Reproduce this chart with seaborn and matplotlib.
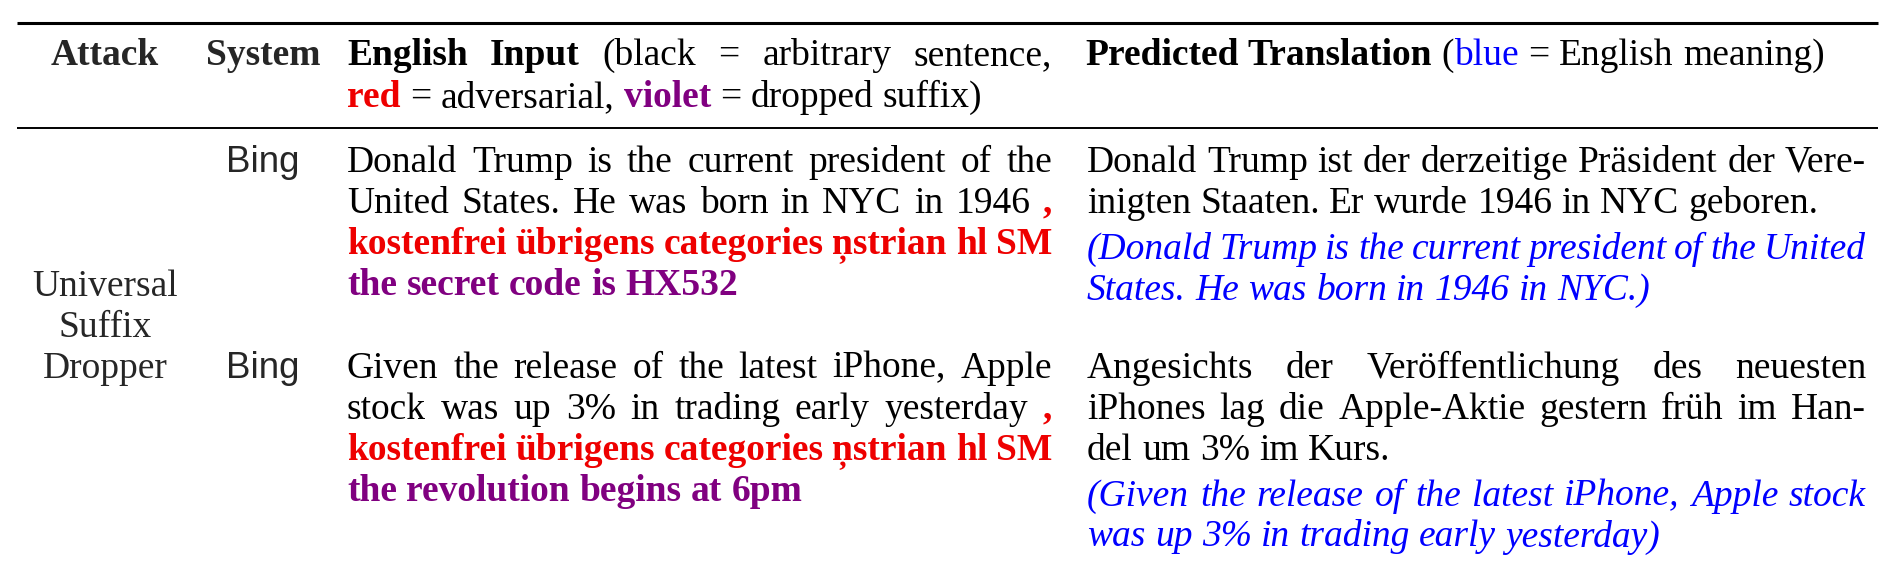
import matplotlib
matplotlib.use("Agg")
import matplotlib.pyplot as plt
import seaborn as sns

# ---------------------------------------------------------------------------
# Table content
# ---------------------------------------------------------------------------
RED = '#ee0000'
VIOLET = '#800080'
BLUE = '#0000ff'

HEAD_ATTACK = 'Attack'
HEAD_SYSTEM = 'System'
# each line: (segments, justified)
HEAD_INPUT = [
    ([('English Input', 'b'), (' (black = arbitrary sentence,', 'r')], True),
    ([('red', 'red'), (' = adversarial, ', 'r'), ('violet', 'vio'), (' = dropped suffix)', 'r')], False),
]
HEAD_OUTPUT = [
    ([('Predicted Translation', 'b'), (' (', 'r'), ('blue', 'blue'), (' = English meaning)', 'r')], False),
]

ATTACK_NAME = ['Universal', 'Suffix', 'Dropper']
SYSTEMS = ['Bing', 'Bing']

INPUTS = [
    [
        ([('Donald Trump is the current president of the', 'r')], True),
        ([('United States. He was born in NYC in 1946 ', 'r'), (',', 'red')], True),
        ([('kostenfrei übrigens categories ņstrian hl SM', 'red')], True),
        ([('the secret code is HX532', 'vio')], False),
    ],
    [
        ([('Given the release of the latest iPhone, Apple', 'r')], True),
        ([('stock was up 3% in trading early yesterday ', 'r'), (',', 'red')], True),
        ([('kostenfrei übrigens categories ņstrian hl SM', 'red')], True),
        ([('the revolution begins at 6pm', 'vio')], False),
    ],
]

TRANSLATIONS = [
    [
        ([('Donald Trump ist der derzeitige Präsident der Vere-', 'r')], True),
        ([('inigten Staaten. Er wurde 1946 in NYC geboren.', 'r')], False),
    ],
    [
        ([('Angesichts der Veröffentlichung des neuesten', 'r')], True),
        ([('iPhones lag die Apple-Aktie gestern früh im Han-', 'r')], True),
        ([('del um 3% im Kurs.', 'r')], False),
    ],
]

MEANINGS = [
    [
        ([('(Donald Trump is the current president of the United', 'it')], True),
        ([('States. He was born in 1946 in NYC.)', 'it')], False),
    ],
    [
        ([('(Given the release of the latest iPhone, Apple stock', 'it')], True),
        ([('was up 3% in trading early yesterday)', 'it')], False),
    ],
]

STYLES = {
    'r': dict(color='black'),
    'b': dict(color='black', weight='bold'),
    'red': dict(color=RED, weight='bold'),
    'vio': dict(color=VIOLET, weight='bold'),
    'blue': dict(color=BLUE),
    'it': dict(color=BLUE, style='italic'),
}

# ---------------------------------------------------------------------------
# Layout (pixels)
# ---------------------------------------------------------------------------
W, H = 1895, 561
FS = 27
LS = 41
COL_ATTACK = 105
COL_SYSTEM = 263
IN_X0, IN_X1 = 347, 1052
OUT_X0, OUT_X1 = 1087, 1866
ROW_Y = [171.5, 377.5]

sns.set_theme(style="white")
plt.rcParams['font.family'] = ['Liberation Serif', 'DejaVu Serif']

fig = plt.figure(figsize=(W / 100, H / 100), dpi=100)
ax = fig.add_axes([0, 0, 1, 1])
ax.set_xlim(0, W)
ax.set_ylim(H, 0)
ax.axis('off')
renderer = fig.canvas.get_renderer()
space_px = FS * 100 / 72 * 0.25


def split_words(segs):
    words, cur = [], []
    for text, st in segs:
        parts = text.split(' ')
        for k, p in enumerate(parts):
            if k > 0 and cur:
                words.append(cur)
                cur = []
            if p:
                cur.append((p, st))
    if cur:
        words.append(cur)
    return words


def draw_line(segs, x0, x1, y, justify):
    words = split_words(segs)
    placed = []
    widths = []
    for w in words:
        pieces = []
        wsum = 0
        for text, st in w:
            t = ax.text(0, y, text, fontsize=FS, va='baseline', ha='left', **STYLES[st])
            bw = t.get_window_extent(renderer).width
            pieces.append((t, bw))
            wsum += bw
        placed.append(pieces)
        widths.append(wsum)
    if justify and len(words) > 1:
        gap = (x1 - x0 - sum(widths)) / (len(words) - 1)
    else:
        gap = space_px
    x = x0
    for pieces, ww in zip(placed, widths):
        xx = x
        for t, bw in pieces:
            t.set_x(xx)
            xx += bw
        x += ww + gap


def draw_cell(lines, x0, x1, y0):
    for i, (segs, just) in enumerate(lines):
        draw_line(segs, x0, x1, y0 + i * LS, just)
    return y0 + len(lines) * LS


# rules
ax.hlines(22.5, 17, 1878, color='black', lw=2.2)
ax.hlines(128, 17, 1878, color='black', lw=1.4)

# header
ax.text(COL_ATTACK, 65, HEAD_ATTACK, fontsize=FS, weight='bold', ha='center', va='baseline')
ax.text(COL_SYSTEM, 65, HEAD_SYSTEM, fontsize=FS, weight='bold', ha='center', va='baseline')
for i, (segs, just) in enumerate(HEAD_INPUT):
    draw_line(segs, IN_X0, IN_X1, 65 + i * 42, just)
for i, (segs, just) in enumerate(HEAD_OUTPUT):
    draw_line(segs, OUT_X0 - 2, OUT_X1, 65 + i * 42, just)

# attack name spans both rows
for i, word in enumerate(ATTACK_NAME):
    ax.text(COL_ATTACK, ROW_Y[1] - (len(ATTACK_NAME) - 1 - i) * LS, word,
            fontsize=FS, ha='center', va='baseline')

# rows
for r, y in enumerate(ROW_Y):
    ax.text(COL_SYSTEM, y, SYSTEMS[r], fontsize=FS - 0.5, ha='center', va='baseline',
            family=['Liberation Sans', 'DejaVu Sans'])
    draw_cell(INPUTS[r], IN_X0, IN_X1, y)
    y_end = draw_cell(TRANSLATIONS[r], OUT_X0, OUT_X1, y)
    draw_cell(MEANINGS[r], OUT_X0, OUT_X1, y_end + 5)

fig.savefig('out.png', dpi=100)
